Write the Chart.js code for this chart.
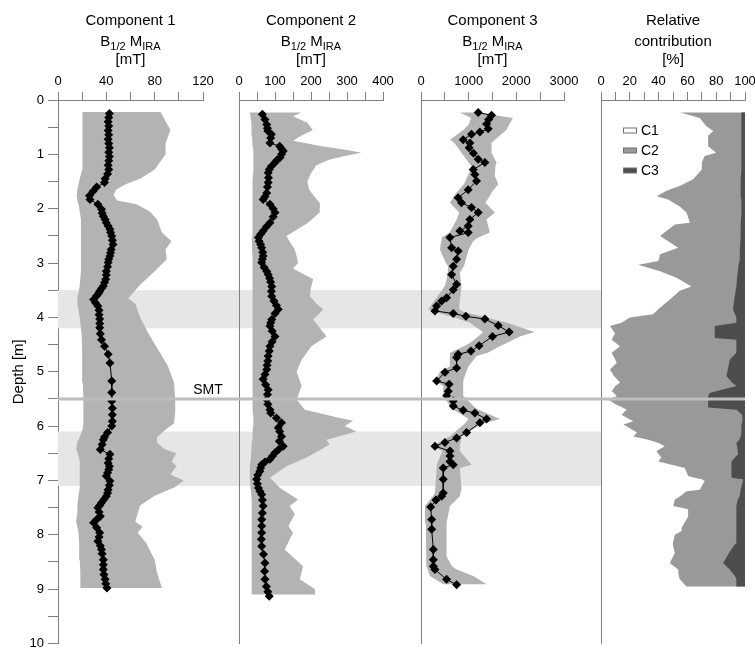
<!DOCTYPE html>
<html>
<head>
<meta charset="utf-8">
<title>Magnetic components vs depth</title>
<script src="https://cdn.jsdelivr.net/npm/chart.js@4/dist/chart.umd.min.js"></script>
<style>
  html, body { margin: 0; padding: 0; background: #ffffff; }
  #wrap { position: relative; width: 755px; height: 649px; }
  #wrap canvas { position: absolute; left: 0; top: 0; }
</style>
</head>
<body>
<div id="wrap">
  <canvas id="panel1" width="755" height="649"></canvas>
  <canvas id="panel2" width="755" height="649"></canvas>
  <canvas id="panel3" width="755" height="649"></canvas>
  <canvas id="panel4" width="755" height="649"></canvas>
</div>
<script>
// ---------------- data ----------------
// Component 1: median B1/2 (mT) with its range envelope
const comp1Depth = [0.25,0.32,0.40,0.48,0.56,0.64,0.72,0.80,0.88,0.96,1.04,1.12,1.20,1.28,1.36,1.45,1.52,1.60,1.68,1.76,1.83,1.92,2.01,2.08,2.14,2.20,2.26,2.32,2.38,2.44,2.50,2.58,2.66,2.75,2.81,2.87,2.93,2.99,3.07,3.15,3.22,3.30,3.36,3.42,3.47,3.52,3.56,3.60,3.67,3.73,3.79,3.87,3.95,4.03,4.11,4.19,4.30,4.41,4.53,4.68,4.84,5.17,5.38,5.54,5.67,5.79,5.91,6.00,6.12,6.20,6.25,6.34,6.43,6.52,6.60,6.68,6.74,6.80,6.86,6.92,7.01,7.09,7.17,7.23,7.29,7.35,7.41,7.46,7.50,7.58,7.66,7.72,7.78,7.87,7.96,8.04,8.12,8.20,8.27,8.35,8.46,8.55,8.64,8.73,8.82,8.90,8.98];
const comp1Value = [42.5,42,41.5,42,41.5,42,41.5,42,42.5,42,42.5,42,41.5,42,41,39,38.5,32,29,26,26.5,33,36,36.5,37.5,39,40,41.5,43,43.5,44.5,45,45.5,44,43.5,43,42,41.5,41,40,40,39.5,38.5,37.5,36,34.5,33.5,32,29.5,31,33,34,34,34.5,34.5,34.5,35,36,38.5,41.5,43,44.5,44.5,44.5,45,45,45,44.5,41,38.5,37.5,36.5,35,43,42,41.5,42.5,42,41,40,43,42.5,41.5,41,40,38,36,34.5,33,34,35,32,29.5,32,34.5,34,33,35,36,36.5,37.5,37.5,37.5,38,39,39.5,40.5];
const comp1RangeDepth = [0.22,0.35,0.55,0.80,1.00,1.28,1.45,1.55,1.65,1.75,1.85,1.92,2.05,2.20,2.44,2.60,2.75,2.93,3.15,3.40,3.55,3.65,3.75,4.00,4.30,4.60,4.90,5.20,5.50,5.75,5.95,6.05,6.20,6.30,6.42,6.50,6.65,6.74,6.89,7.00,7.12,7.28,7.46,7.60,7.76,7.85,7.96,8.15,8.46,8.70,8.98];
const comp1High = [85,88,93,89,89,80,68,56,48,46,49,65,76,82,86,94,89,90,80,68,62,58,64,68,75,83,91,96,97,97,96,90,82,82,88,98,94,98,93,104,97,80,68,66,64,70,66,73,80,82,86];
const comp1Low = [20.5,20.5,20,20,20,20,18,17,16,15.5,16,17,18,19,19,19,19,19,19,18,17,16,16,18,19.5,20,20,20.5,21,21,21,20.5,18,16,15,16.5,18,18,18,18,18,17,16,16,15,16,17,17.5,18,18.5,18.5];

// Component 2
const comp2Depth = [0.26,0.36,0.45,0.52,0.57,0.63,0.70,0.79,0.85,0.90,0.94,1.00,1.06,1.11,1.15,1.22,1.28,1.34,1.43,1.52,1.60,1.71,1.78,1.83,1.92,2.00,2.07,2.15,2.26,2.33,2.41,2.47,2.53,2.60,2.66,2.72,2.80,2.87,2.93,2.99,3.08,3.15,3.21,3.28,3.35,3.43,3.52,3.61,3.70,3.78,3.85,3.93,4.04,4.10,4.16,4.25,4.35,4.45,4.53,4.62,4.71,4.80,4.88,4.96,5.05,5.14,5.24,5.33,5.42,5.51,5.60,5.70,5.76,5.85,5.94,6.03,6.10,6.19,6.28,6.37,6.43,6.49,6.55,6.61,6.66,6.71,6.77,6.83,6.90,6.98,7.06,7.14,7.20,7.26,7.36,7.47,7.60,7.72,7.84,7.96,8.08,8.21,8.36,8.52,8.67,8.82,8.95,9.05,9.13];
const comp2Value = [65,72,77,79,80,90,88,86,113,118,123,118,114,105,100,90,84,81,82,81,79,77,72,67,86,95,100,95,86,76,67,60,54,56,60,63,66,67,65,63,70,77,81,85,88,91,90,91,97,104,109,100,91,88,86,92,100,92,86,84,81,80,78,77,72,67,74,81,79,77,80,86,88,104,118,109,113,118,112,123,110,100,93,86,72,63,60,58,52,49,51,54,58,63,65,67,65,63,63,63,62,63,68,72,71,72,76,80,84];
const comp2RangeDepth = [0.23,0.30,0.42,0.55,0.65,0.75,0.85,0.92,0.97,1.02,1.10,1.20,1.35,1.50,1.65,1.78,1.90,2.07,2.26,2.50,2.60,2.75,2.87,3.00,3.10,3.30,3.45,3.61,3.75,3.85,3.95,4.04,4.20,4.35,4.53,4.78,5.00,5.26,5.51,5.70,5.85,5.90,6.00,6.10,6.25,6.34,6.58,6.74,6.95,7.14,7.35,7.47,7.62,7.84,7.96,8.27,8.58,8.82,9.00,9.10];
const comp2High = [174,150,190,205,175,150,230,300,340,300,250,215,200,190,195,210,225,224,192,132,140,155,160,164,150,206,200,197,215,234,220,206,225,243,201,174,160,174,160,183,280,317,294,326,243,252,188,132,86,114,164,141,155,137,150,127,178,169,211,211];
const comp2Low = [30,32,34,35,36,37,38,39,40,40,40,40,39,38,37,37,37,38,38,37,36,36,37,38,38,38,38,38,38,37,37,37,38,38,38,38,37,37,37,38,40,40,39,38,37,35,33,30,30,32,35,35,35,35,35,35,35,36,36,36];

// Component 3
const comp3Depth = [0.23,0.28,0.36,0.44,0.53,0.59,0.63,0.73,0.79,0.88,0.98,1.09,1.15,1.28,1.37,1.49,1.65,1.80,1.89,1.98,2.07,2.20,2.32,2.41,2.44,2.53,2.72,2.78,2.93,3.06,3.21,3.39,3.49,3.64,3.70,3.79,3.88,3.93,3.98,4.03,4.15,4.27,4.35,4.52,4.62,4.68,4.74,4.93,5.01,5.17,5.23,5.36,5.44,5.54,5.63,5.71,5.76,5.87,5.94,6.12,6.22,6.30,6.37,6.46,6.55,6.65,6.71,6.77,6.98,7.23,7.29,7.36,7.49,7.72,7.90,8.27,8.46,8.58,8.64,8.82,8.92];
const comp3Value = [1200,1480,1420,1375,1410,1235,1060,885,1025,1010,1100,1200,1340,1095,1130,1165,990,780,850,1060,1200,1025,990,815,990,607,642,780,747,677,642,747,677,537,433,328,293,677,942,1340,1620,1850,1500,1220,1047,780,747,747,502,328,590,572,537,677,677,885,1130,1375,1235,957,747,502,293,607,607,607,677,467,467,467,433,314,203,224,224,258,258,258,293,537,747];
const comp3RangeDepth = [0.23,0.33,0.45,0.55,0.73,0.79,0.97,1.15,1.22,1.40,1.55,1.70,1.76,1.89,2.07,2.20,2.44,2.53,2.60,2.75,3.00,3.06,3.18,3.30,3.42,3.67,3.85,3.90,4.00,4.10,4.27,4.35,4.47,4.53,4.65,4.71,4.90,5.00,5.17,5.26,5.44,5.63,5.68,5.87,5.97,6.19,6.37,6.46,6.71,6.77,7.14,7.23,7.29,7.47,7.78,8.40,8.58,8.64,8.76,8.91];
const comp3Low = [815,1050,1000,885,607,700,850,1000,1060,980,900,747,700,607,800,750,600,433,420,398,520,572,560,537,500,300,153,300,700,1025,1300,1200,1025,900,607,607,607,398,293,467,467,607,650,1000,900,600,224,450,330,328,300,293,250,84,100,110,119,140,188,467];
const comp3High = [1200,1930,1850,1790,1550,1480,1480,1585,1560,1550,1620,1480,1445,1350,1550,1375,1445,1200,1095,1000,920,900,815,830,850,815,800,900,1375,1800,2386,2072,1800,1654,1400,1165,1000,950,885,885,885,1100,1165,1654,1250,850,815,815,1060,815,850,830,815,607,537,537,650,747,1100,1375];

// Relative contribution (%): C1 share and C3 share, C2 is the remainder
const relDepth = [0.23,0.33,0.48,0.57,0.66,0.85,0.97,1.03,1.15,1.28,1.46,1.58,1.67,1.77,1.83,1.96,2.07,2.26,2.29,2.50,2.72,2.84,2.96,3.03,3.15,3.27,3.43,3.51,3.67,3.85,3.94,4.00,4.10,4.16,4.29,4.38,4.41,4.53,4.65,4.78,4.84,4.96,5.08,5.20,5.26,5.36,5.39,5.45,5.51,5.60,5.66,5.70,5.79,5.82,5.91,5.97,6.12,6.19,6.25,6.31,6.37,6.46,6.52,6.58,6.65,6.77,6.92,6.95,6.98,7.01,7.17,7.20,7.29,7.35,7.47,7.53,7.65,7.69,7.87,7.93,8.00,8.15,8.21,8.33,8.52,8.64,8.76,8.82,8.95];
const relC1 = [55,68.6,73,78,74.4,74.4,80,72,70,70,64,55,45.5,38.6,46.6,54.7,59.4,61.7,51.3,41,53.6,41,39.8,25.9,41,52.5,62.8,54.7,47.8,39.8,36.2,20,14.3,6.2,9.7,8,7.4,13.2,7.4,10,10.9,6.2,9,13.2,10,7.4,9,10.9,5,10,15,17.8,14.3,16,22.4,15.5,25,22.4,32.8,40,44.3,38.6,40,42,39.8,58.2,60.5,65,70,72,68.6,59.4,55,51.3,50.1,60.5,60.5,60,55.9,56,51.3,50,50.1,51.3,47.8,53.6,54,54.7,59.4];
const relC3 = [2.5,2.5,2.5,2.5,2.5,2.5,2.5,2.5,2.5,2.5,3,3,3,3,2.5,2.5,2.5,3,3,3,3.5,3.5,4,4.5,5,5.5,6,6.5,7.5,8.3,7,6,6,21,21,21,6,6,6,10.6,11,12,12.9,9,6,20,24.5,25.6,25.6,25.6,25.6,6,2,1.4,2,2.5,2.5,3,4,6,5.5,5,4.8,7,9.4,9.4,9.4,9.4,1.4,1.5,3,3.3,3.7,5,6,6,6,6,6,6,6,6,8,11,15.2,10.6,7,6,6];
const TOTAL_PERCENT = 100;

// Depth markers
const smtDepth = 5.5;
const bandTop = [3.5, 6.1];
const bandBottom = [4.2, 7.1];

// Legend of the contribution panel
const legendLabels = ['C1', 'C2', 'C3'];

// Panel headers (second line uses subscripts)
const header1 = ['Component 1', [['B', false], ['1/2', true], [' M', false], ['IRA', true]], '[mT]'];
const header2 = ['Component 2', [['B', false], ['1/2', true], [' M', false], ['IRA', true]], '[mT]'];
const header3 = ['Component 3', [['B', false], ['1/2', true], [' M', false], ['IRA', true]], '[mT]'];
const header4 = ['Relative', 'contribution', '[%]'];

// ---------------- layout & style ----------------
const FONT = '"Liberation Sans", Arial, Helvetica, sans-serif';
const PAGE_W = 755, PAGE_H = 649;
const PLOT_TOP = 100, PLOT_BOTTOM = 643.5;
const X_AXIS_H = 30, Y_AXIS_W = 51;
const PANELS = [
  { left: 58, right: 203 },
  { left: 239, right: 383 },
  { left: 421, right: 564 },
  { left: 601, right: 745 }
];
const HEADER_BASELINES = [25, 46, 64];
const HEAD_SIZE = 15, SUB_SIZE = 11;
const AXIS_COLOR = '#808080';
const ENV_COLOR = '#b3b3b3';
const BAND_COLOR = '#e6e6e6';
const SMT_COLOR = '#bdbdbd';
const C1_COLOR = '#ffffff';
const C2_COLOR = '#999999';
const C3_COLOR = '#4d4d4d';

// ---------------- helpers ----------------
function pts(xs, ys) {
  const n = Math.min(xs.length, ys.length);
  const out = [];
  for (let i = 0; i < n; i++) out.push({ x: xs[i], y: ys[i] });
  return out;
}
// closed outline: high side downwards, low side back up
function envelope(depth, low, high) {
  return pts(high, depth).concat(pts(low, depth).reverse());
}
// closed outline from a boundary to the right-hand edge (100 %)
function toTotal(depth, boundary) {
  const line = pts(boundary, depth);
  const n = line.length;
  return line.concat([{ x: TOTAL_PERCENT, y: line[n - 1].y }, { x: TOTAL_PERCENT, y: line[0].y }]);
}

const headerPlugin = {
  id: 'header',
  afterDraw(chart, args, opts) {
    const ctx = chart.ctx;
    const cx = (chart.chartArea.left + chart.chartArea.right) / 2;
    ctx.save();
    ctx.fillStyle = '#000';
    ctx.textBaseline = 'alphabetic';
    ctx.textAlign = 'left';
    (opts.lines || []).forEach((line, i) => {
      const base = HEADER_BASELINES[i];
      const parts = typeof line === 'string' ? [[line, false]] : line;
      let w = 0;
      parts.forEach(([t, sub]) => {
        ctx.font = (sub ? SUB_SIZE : HEAD_SIZE) + 'px ' + FONT;
        w += ctx.measureText(t).width;
      });
      let x = cx - w / 2;
      parts.forEach(([t, sub]) => {
        ctx.font = (sub ? SUB_SIZE : HEAD_SIZE) + 'px ' + FONT;
        ctx.fillText(t, x, base + (sub ? 3.5 : 0));
        x += ctx.measureText(t).width;
      });
    });
    ctx.restore();
  }
};

const bandPlugin = {
  id: 'bands',
  beforeDatasetsDraw(chart) {
    const ctx = chart.ctx, y = chart.scales.y;
    const x0 = chart.chartArea.left, x1 = PANELS[3].left;
    ctx.save();
    ctx.fillStyle = BAND_COLOR;
    for (let i = 0; i < bandTop.length; i++) {
      const t = y.getPixelForValue(bandTop[i]);
      const b = y.getPixelForValue(bandBottom[i]);
      ctx.fillRect(x0, t, x1 - x0, b - t);
    }
    ctx.restore();
  }
};

const smtPlugin = {
  id: 'smt',
  afterDatasetsDraw(chart) {
    const ctx = chart.ctx;
    const y = chart.scales.y.getPixelForValue(smtDepth);
    ctx.save();
    ctx.strokeStyle = SMT_COLOR;
    ctx.lineWidth = 3;
    ctx.beginPath();
    ctx.moveTo(PANELS[0].left, y);
    ctx.lineTo(chart.chartArea.right, y);
    ctx.stroke();
    ctx.fillStyle = '#000';
    ctx.font = '14px ' + FONT;
    ctx.textAlign = 'center';
    ctx.textBaseline = 'alphabetic';
    ctx.fillText('SMT', PANELS[0].right + 5, y - 4.5);
    ctx.restore();
  }
};

const legendPlugin = {
  id: 'contribLegend',
  afterDatasetsDraw(chart) {
    const ctx = chart.ctx;
    const left = chart.chartArea.left + 22, top = chart.chartArea.top;
    const fills = [C1_COLOR, C2_COLOR, C3_COLOR];
    ctx.save();
    ctx.font = '14px ' + FONT;
    ctx.textAlign = 'left';
    ctx.textBaseline = 'middle';
    legendLabels.forEach((label, i) => {
      const cy = top + 30.5 + i * 20;
      ctx.fillStyle = fills[i];
      ctx.fillRect(left, cy - 2.5, 14, 5);
      ctx.strokeStyle = '#707070';
      ctx.lineWidth = 1;
      ctx.strokeRect(left + 0.5, cy - 2.5, 13, 5);
      ctx.fillStyle = '#000';
      ctx.fillText(label, left + 18, cy + 1);
    });
    ctx.restore();
  }
};

function makePanel(id, idx, cfg) {
  const P = PANELS[idx];
  const withDepthAxis = idx === 0;
  const yAxis = withDepthAxis ? {
    type: 'linear', reverse: true, min: 0, max: 10,
    ticks: {
      stepSize: 0.5, autoSkip: false, padding: 4, color: '#000',
      font: { family: FONT, size: 13 },
      callback: v => (Number.isInteger(v) ? String(v) : '')
    },
    grid: { display: true, drawOnChartArea: false, drawTicks: true, tickLength: 10, color: AXIS_COLOR },
    border: { display: true, color: AXIS_COLOR, width: 1 },
    title: { display: true, text: 'Depth [m]', color: '#000', font: { family: FONT, size: 15 }, padding: { top: 3, bottom: 0 } },
    afterFit: s => { s.width = Y_AXIS_W; s.paddingTop = 0; s.paddingBottom = 0; }
  } : {
    type: 'linear', reverse: true, min: 0, max: 10,
    ticks: { display: false, stepSize: 1 },
    grid: { display: false },
    border: { display: true, color: AXIS_COLOR, width: 1 },
    afterFit: s => { s.width = 0; s.paddingTop = 0; s.paddingBottom = 0; }
  };
  return new Chart(document.getElementById(id), {
    type: 'scatter',
    data: { datasets: cfg.datasets },
    options: {
      responsive: false,
      animation: false,
      devicePixelRatio: 1,
      events: [],
      layout: {
        padding: {
          left: P.left - (withDepthAxis ? Y_AXIS_W : 0),
          right: PAGE_W - P.right,
          top: PLOT_TOP - X_AXIS_H,
          bottom: PAGE_H - PLOT_BOTTOM
        }
      },
      plugins: {
        legend: { display: false },
        tooltip: { enabled: false },
        header: { lines: cfg.header }
      },
      scales: {
        x: {
          type: 'linear', position: 'top', min: 0, max: cfg.xMax,
          ticks: {
            stepSize: cfg.xStep, autoSkip: false, maxRotation: 0, padding: 3, color: '#000',
            font: { family: FONT, size: 13 },
            callback: v => (Math.round(v) % cfg.xLabelEvery === 0 ? String(v) : '')
          },
          grid: { display: true, drawOnChartArea: false, drawTicks: true, tickLength: 8, color: AXIS_COLOR },
          border: { display: true, color: AXIS_COLOR, width: 1 },
          afterFit: s => { s.height = X_AXIS_H; s.paddingLeft = 0; s.paddingRight = 0; }
        },
        y: yAxis
      }
    },
    plugins: [headerPlugin].concat(cfg.plugins || [])
  });
}

function medianSet(values, depth) {
  return {
    label: 'median',
    data: pts(values, depth),
    showLine: true,
    borderColor: '#000',
    borderWidth: 1,
    pointStyle: 'rectRot',
    pointRadius: 4.5,
    pointBackgroundColor: '#000',
    pointBorderColor: '#000',
    pointBorderWidth: 0,
    fill: false,
    order: 0
  };
}
function rangeSet(depth, low, high) {
  return {
    label: 'range',
    data: envelope(depth, low, high),
    showLine: true,
    fill: 'shape',
    backgroundColor: ENV_COLOR,
    borderColor: 'rgba(0,0,0,0)',
    borderWidth: 0,
    pointRadius: 0,
    order: 1
  };
}

makePanel('panel1', 0, {
  header: header1, xMax: 120, xStep: 20, xLabelEvery: 40,
  datasets: [medianSet(comp1Value, comp1Depth), rangeSet(comp1RangeDepth, comp1Low, comp1High)],
  plugins: [bandPlugin]
});
makePanel('panel2', 1, {
  header: header2, xMax: 400, xStep: 50, xLabelEvery: 100,
  datasets: [medianSet(comp2Value, comp2Depth), rangeSet(comp2RangeDepth, comp2Low, comp2High)]
});
makePanel('panel3', 2, {
  header: header3, xMax: 3000, xStep: 500, xLabelEvery: 1000,
  datasets: [medianSet(comp3Value, comp3Depth), rangeSet(comp3RangeDepth, comp3Low, comp3High)]
});
// C1 is the unfilled (white) part left of the C2 area
makePanel('panel4', 3, {
  header: header4, xMax: 100, xStep: 10, xLabelEvery: 20,
  datasets: [
    { label: 'C3', data: toTotal(relDepth, relC3.map(v => TOTAL_PERCENT - v)), showLine: true, fill: 'shape',
      backgroundColor: C3_COLOR, borderColor: 'rgba(0,0,0,0)', borderWidth: 0, pointRadius: 0, order: 0 },
    { label: 'C2', data: toTotal(relDepth, relC1), showLine: true, fill: 'shape',
      backgroundColor: C2_COLOR, borderColor: 'rgba(0,0,0,0)', borderWidth: 0, pointRadius: 0, order: 1 }
  ],
  plugins: [legendPlugin, smtPlugin]
});
</script>
</body>
</html>
